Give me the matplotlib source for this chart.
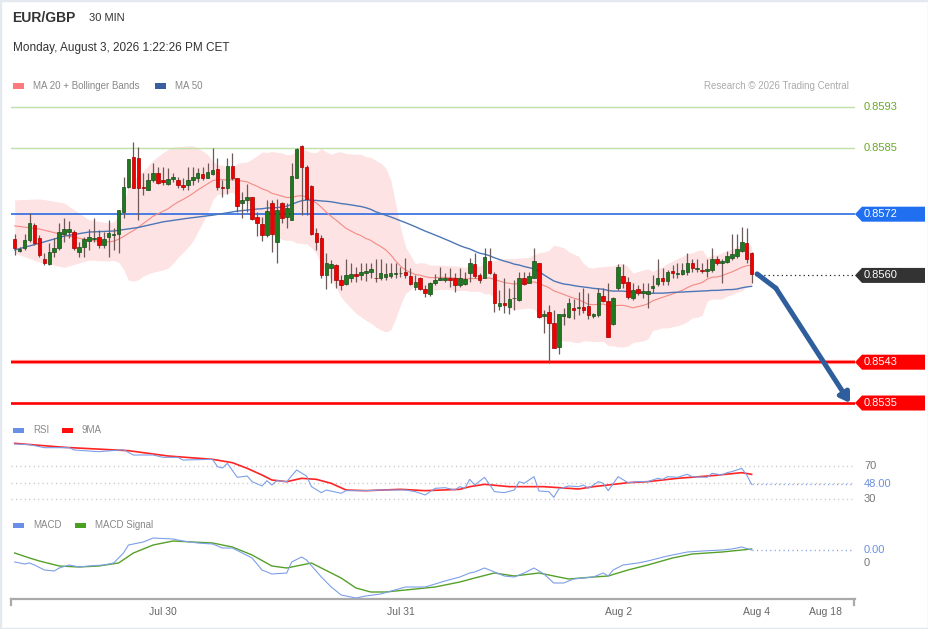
import numpy as np
import pandas as pd
import matplotlib
matplotlib.use("Agg")
import matplotlib.pyplot as plt
from matplotlib.patches import Polygon, Rectangle
from matplotlib.transforms import IdentityTransform

plt.rcParams['font.family'] = ['Liberation Sans', 'DejaVu Sans']

# ---------------- data (EUR/GBP, 30 min candles) ----------------
opens = [0.85671,0.85648,0.85653,0.85669,0.85699,0.85673,0.85632,0.85622,0.85646,0.85653,
0.85682,0.85686,0.85686,0.85645,0.85656,0.85668,0.85671,0.85675,0.85660,0.85676,
0.85680,0.85682,0.85725,0.85774,0.85833,0.85831,0.85773,0.85767,0.85787,0.85800,
0.85787,0.85779,0.85789,0.85787,0.85777,0.85777,0.85786,0.85790,0.85798,0.85791,
0.85799,0.85808,0.85773,0.85771,0.85815,0.85790,0.85742,0.85748,0.85753,0.85715,
0.85700,0.85680,0.85742,0.85666,0.85742,0.85715,0.85709,0.85791,0.85854,0.85813,
0.85776,0.85684,0.85674,0.85601,0.85614,0.85620,0.85591,0.85583,0.85594,0.85602,
0.85601,0.85604,0.85607,0.85595,0.85594,0.85597,0.85599,0.85603,0.85604,0.85607,
0.85599,0.85578,0.85594,0.85573,0.85563,0.85586,0.85592,0.85591,0.85594,0.85594,
0.85581,0.85583,0.85604,0.85622,0.85601,0.85595,0.85629,0.85603,0.85541,0.85545,
0.85539,0.85555,0.85552,0.85595,0.85586,0.85595,0.85624,0.85521,0.85529,0.85506,
0.85460,0.85520,0.85519,0.85537,0.85537,0.85539,0.85540,0.85520,0.85522,0.85560,
0.85550,0.85505,0.85575,0.85599,0.85588,0.85555,0.85573,0.85566,0.85563,0.85575,
0.85583,0.85594,0.85589,0.85609,0.85602,0.85602,0.85607,0.85624,0.85612,0.85611,
0.85609,0.85611,0.85633,0.85624,0.85627,0.85635,0.85638,0.85648,0.85663,0.85643]

highs = [0.85682,0.85656,0.85682,0.85722,0.85702,0.85679,0.85643,0.85663,0.85673,0.85703,
0.85713,0.85707,0.85689,0.85666,0.85676,0.85690,0.85712,0.85689,0.85686,0.85708,
0.85692,0.85728,0.85793,0.85828,0.85862,0.85852,0.85800,0.85800,0.85820,0.85812,
0.85813,0.85811,0.85801,0.85793,0.85790,0.85812,0.85813,0.85810,0.85813,0.85820,
0.85850,0.85831,0.85787,0.85831,0.85839,0.85791,0.85764,0.85780,0.85754,0.85724,
0.85715,0.85748,0.85748,0.85750,0.85744,0.85741,0.85820,0.85850,0.85856,0.85816,
0.85777,0.85692,0.85679,0.85643,0.85630,0.85622,0.85601,0.85633,0.85625,0.85617,
0.85624,0.85625,0.85624,0.85633,0.85633,0.85624,0.85624,0.85624,0.85617,0.85635,
0.85615,0.85601,0.85597,0.85581,0.85588,0.85602,0.85617,0.85604,0.85614,0.85604,
0.85614,0.85607,0.85635,0.85643,0.85604,0.85653,0.85653,0.85607,0.85571,0.85594,
0.85575,0.85591,0.85607,0.85607,0.85607,0.85654,0.85624,0.85532,0.85542,0.85532,
0.85524,0.85537,0.85555,0.85553,0.85568,0.85575,0.85565,0.85526,0.85575,0.85575,
0.85585,0.85558,0.85622,0.85622,0.85597,0.85586,0.85581,0.85585,0.85585,0.85601,
0.85633,0.85614,0.85611,0.85620,0.85624,0.85625,0.85643,0.85632,0.85633,0.85624,
0.85632,0.85653,0.85638,0.85633,0.85648,0.85682,0.85682,0.85694,0.85692,0.85646]

lows = [0.85641,0.85645,0.85650,0.85666,0.85660,0.85637,0.85620,0.85620,0.85637,0.85650,
0.85666,0.85673,0.85650,0.85637,0.85637,0.85650,0.85666,0.85653,0.85653,0.85637,
0.85650,0.85643,0.85713,0.85771,0.85771,0.85709,0.85758,0.85767,0.85784,0.85779,
0.85777,0.85777,0.85784,0.85771,0.85767,0.85767,0.85777,0.85784,0.85787,0.85790,
0.85797,0.85767,0.85754,0.85759,0.85787,0.85724,0.85713,0.85725,0.85709,0.85677,
0.85667,0.85676,0.85646,0.85624,0.85702,0.85693,0.85709,0.85790,0.85718,0.85718,
0.85679,0.85650,0.85594,0.85573,0.85585,0.85575,0.85571,0.85581,0.85588,0.85588,
0.85591,0.85589,0.85594,0.85588,0.85591,0.85591,0.85594,0.85594,0.85597,0.85594,
0.85581,0.85571,0.85571,0.85558,0.85560,0.85581,0.85591,0.85588,0.85578,0.85567,
0.85578,0.85581,0.85588,0.85595,0.85585,0.85594,0.85602,0.85529,0.85532,0.85526,
0.85524,0.85532,0.85550,0.85581,0.85585,0.85594,0.85516,0.85487,0.85428,0.85457,
0.85447,0.85503,0.85516,0.85514,0.85522,0.85526,0.85514,0.85516,0.85519,0.85548,
0.85480,0.85503,0.85571,0.85575,0.85553,0.85552,0.85561,0.85555,0.85537,0.85565,
0.85579,0.85581,0.85581,0.85594,0.85594,0.85601,0.85601,0.85607,0.85607,0.85604,
0.85596,0.85607,0.85620,0.85585,0.85624,0.85630,0.85635,0.85646,0.85624,0.85585]

closes = [0.85653,0.85652,0.85669,0.85702,0.85663,0.85640,0.85625,0.85645,0.85654,0.85686,
0.85690,0.85690,0.85653,0.85656,0.85671,0.85675,0.85673,0.85660,0.85671,0.85684,
0.85682,0.85728,0.85774,0.85828,0.85772,0.85772,0.85771,0.85787,0.85800,0.85782,
0.85784,0.85788,0.85793,0.85777,0.85774,0.85787,0.85793,0.85800,0.85791,0.85802,
0.85807,0.85773,0.85771,0.85815,0.85791,0.85736,0.85748,0.85754,0.85710,0.85702,
0.85680,0.85726,0.85681,0.85728,0.85713,0.85733,0.85795,0.85847,0.85813,0.85750,
0.85682,0.85665,0.85601,0.85624,0.85622,0.85592,0.85581,0.85601,0.85603,0.85599,
0.85606,0.85609,0.85612,0.85594,0.85605,0.85602,0.85604,0.85605,0.85605,0.85601,
0.85583,0.85588,0.85573,0.85566,0.85585,0.85592,0.85595,0.85594,0.85591,0.85581,
0.85594,0.85593,0.85624,0.85599,0.85592,0.85637,0.85604,0.85545,0.85545,0.85542,
0.85553,0.85556,0.85595,0.85583,0.85599,0.85628,0.85519,0.85524,0.85506,0.85458,
0.85524,0.85524,0.85545,0.85532,0.85539,0.85533,0.85522,0.85524,0.85565,0.85550,
0.85480,0.85555,0.85616,0.85585,0.85557,0.85571,0.85566,0.85569,0.85570,0.85579,
0.85594,0.85589,0.85607,0.85604,0.85605,0.85611,0.85624,0.85615,0.85615,0.85609,
0.85612,0.85633,0.85625,0.85629,0.85638,0.85642,0.85652,0.85665,0.85632,0.85603]

# indicator values before the rolling windows are full
ma20_head_idx = [0, 5, 10, 15]
ma20_head = [0.85697, 0.85691, 0.85679, 0.85669]
bb_up_head = [0.85748, 0.85750, 0.85742, 0.85709]
bb_lo_head = [0.85644, 0.85626, 0.85616, 0.85630]
ma50_head_idx = [0, 5, 10, 15, 20, 25, 30, 35, 40, 45]
ma50_head = [0.85650, 0.85663, 0.85677, 0.85685, 0.85687, 0.85694, 0.85705, 0.85712, 0.85718, 0.85726]

rsi_idx = [0,3,6,11,12,17,22,24,28,30,33,34,40,41,42,43,45,47,48,50,51,52,53,55,57,59,60,62,63,66,
           67,71,74,79,81,83,85,87,89,90,91,92,93,95,97,99,101,102,103,105,106,108,109,110,112,114,115,
           116,118,119,120,122,124,126,128,130,131,132,134,136,137,140,141,143,144,145,147,148,149]
rsi_vals = [96.4,95.6,92,92,89.2,87.2,89.5,83.2,83.2,80.4,80.4,77.2,78,69.2,67.6,73.2,56.4,58,51.2,46,
            52.4,47.2,52.4,51.2,65.2,58,45.2,38,41.2,37.2,40.4,40.4,41.2,41.2,39.2,35.2,43.2,44,41.2,45.2,
            43.2,54,47.2,56.4,39.2,38,41.2,51.2,49.2,57.2,40,39.2,32.4,42.4,46,45.2,47.2,43.2,51.2,49.2,
            40.4,57.2,50,51.2,51.2,55.2,54,57.2,56.4,60,57.2,56.4,61.2,59.2,62,63.2,67.2,59.2,48]
rsi9_idx = [0,10,23,31,40,44,47,50,52,55,58,61,64,67,71,78,83,90,92,95,100,107,114,117,120,124,128,134,141,147,149]
rsi9_vals = [97.2,92.4,88.4,82,78,74,67.2,59.2,53.2,51.2,55.2,54,49.2,41.2,40.4,42,40.4,42,45.2,48,
             45.2,45.2,42.4,45.2,47.2,50,51.2,55.2,58.4,62,60]

macd_idx = [0,2,3,4,6,8,9,11,13,15,18,20,22,23,26,28,32,34,37,40,42,44,46,48,50,52,55,56,58,59,62,64,66,
            69,71,74,79,83,87,90,92,93,95,97,99,101,103,105,107,109,111,113,115,117,119,120,121,123,126,
            128,132,136,139,143,145,147,149]
macd_vals = [0.00001,-0.00001,0.0,-0.00002,-0.00007,-0.00008,-0.00005,-0.00002,-0.00004,-0.00003,
             -0.00002,0.0,0.00010,0.00018,0.00021,0.00025,0.00024,0.00022,0.00020,0.00019,
             0.00015,0.00015,0.00010,0.00005,-0.00007,-0.00011,-0.00010,0.00001,0.00006,0.00003,
             -0.00014,-0.00024,-0.00032,-0.00035,-0.00033,-0.00031,-0.00024,-0.00024,-0.00018,-0.00014,
             -0.00010,-0.00009,-0.00005,-0.00009,-0.00013,-0.00014,-0.00010,-0.00005,-0.00011,-0.00020,
             -0.00020,-0.00016,-0.00015,-0.00014,-0.00010,-0.00013,-0.00007,-0.00002,0.0,0.00002,
             0.00007,0.00011,0.00012,0.00013,0.00014,0.00016,0.00013]
sig_idx = [0,3,5,9,13,17,21,24,28,32,36,40,44,48,52,55,58,60,62,66,69,72,75,79,85,90,93,97,101,106,
           108,112,117,120,124,128,133,137,143,149]
sig_vals = [0.00010,0.00005,0.00002,-0.00003,-0.00004,-0.00003,0.0,0.00010,0.00018,0.00022,
            0.00021,0.00020,0.00016,0.00008,-0.00003,-0.00005,-0.00002,0.0,-0.00005,-0.00015,
            -0.00025,-0.00029,-0.00029,-0.00027,-0.00024,-0.00019,-0.00015,-0.00010,-0.00013,-0.00010,
            -0.00012,-0.00016,-0.00014,-0.00013,-0.00007,-0.00002,0.00005,0.00009,0.00011,0.00014]

level_prices = [0.8593, 0.8585, 0.8572, 0.8560, 0.8543, 0.8535]
level_texts = ['0.8593', '0.8585', '0.8572', '0.8560', '0.8543', '0.8535']
target_price = 0.8535

tick_idx = [30, 78, 122, 150, 164]
tick_labels = ['Jul 30', 'Jul 31', 'Aug 2', 'Aug 4', 'Aug 18']

# ---------------- figure ----------------
W, H = 929, 629
fig = plt.figure(figsize=(W / 100, H / 100), dpi=100)
fig.patch.set_facecolor('white')

PX_L, PX_R = 11, 855
XLIM = (-0.75, 169.9)


def add_ax(top, bottom):
    a = fig.add_axes([PX_L / W, 1 - bottom / H, (PX_R - PX_L) / W, (bottom - top) / H])
    a.set_facecolor('none')
    for s in a.spines.values():
        s.set_visible(False)
    a.set_xticks([])
    a.set_yticks([])
    a.set_xlim(XLIM)
    return a


ax = add_ax(97, 412)
ax.set_ylim(0.853324, 0.859496)
ax_rsi = add_ax(435, 505)
ax_rsi.set_ylim(23.2, 107.2)
ax_macd = add_ax(530, 599)
ax_macd.set_ylim(-0.00036, 0.00033)

o = np.array(opens); h = np.array(highs); l = np.array(lows); c = np.array(closes)
n = len(c)
idx = np.arange(n)

# Bollinger / MAs
cs = pd.Series(c)
ma20 = cs.rolling(20).mean().to_numpy()
sd20 = cs.rolling(20).std(ddof=0).to_numpy()
ma50 = cs.rolling(50).mean().to_numpy()
x20 = np.r_[ma20_head_idx, idx[19:]]
m20 = np.r_[ma20_head, ma20[19:]]
bu = np.r_[bb_up_head, (ma20 + 2 * sd20)[19:]]
bl = np.r_[bb_lo_head, (ma20 - 2 * sd20)[19:]]
x50 = np.r_[ma50_head_idx, idx[49:]]
m50 = np.r_[ma50_head, ma50[49:]]

ax.fill_between(x20, bl, bu, color='#fde3e3', lw=0, zorder=1)
ax.plot(x20, m20, color='#f58a84', lw=0.8, zorder=2.5)
ax.plot(x50, m50, color='#4d76b6', lw=1.0, zorder=2.5)

# levels
ax.axhline(level_prices[0], color='#bfe0a8', lw=1.0, zorder=2)
ax.axhline(level_prices[1], color='#bfe0a8', lw=1.0, zorder=2)
ax.axhline(level_prices[2], color='#2c6be0', lw=1.2, zorder=2)
ax.plot([n - 0.3, XLIM[1]], [level_prices[3]] * 2, color='#222222', lw=0.9, ls=(0, (1, 2.5)), zorder=2)
ax.axhline(level_prices[4], color='#ff9a9a', lw=3.0, zorder=2)
ax.axhline(level_prices[4], color='#ff0000', lw=1.6, zorder=2)
ax.axhline(level_prices[5], color='#ff0000', lw=1.9, zorder=2)

# candles
upc = c >= o
ax.vlines(idx, l, h, color='#6e5858', lw=0.9, zorder=3)
bb = np.minimum(o, c)
bh = np.maximum(np.abs(c - o), 0.000012)
ax.bar(idx[upc], bh[upc], bottom=bb[upc], width=0.72, color='#1f7a1f', edgecolor='#1a4a1a', lw=0.5, zorder=4)
ax.bar(idx[~upc], bh[~upc], bottom=bb[~upc], width=0.72, color='#f20000', edgecolor='#a00000', lw=0.5, zorder=4)

# forecast arrow
last = n - 1
ax_x = [last + 1.1, last + 4.9]
ax_y = [c[-1], c[-1] - 0.00028]
ax.plot(ax_x, ax_y, color='#2e5e9c', lw=3.6, solid_capstyle='round', zorder=6, clip_on=False)
ax.annotate('', xy=(last + 19.9, target_price), xytext=(ax_x[1], ax_y[1]),
            arrowprops=dict(arrowstyle='-|>,head_length=0.55,head_width=0.35', color='#2e5e9c',
                            lw=3.6, shrinkA=0, shrinkB=0), zorder=6, annotation_clip=False)

# right side tags for levels
green_txt = '#6aa829'
def tag(price, text, fc):
    yd = ax.transData.transform((0, price))[1]
    pts = [(855, yd), (862, yd + 7.5), (925, yd + 7.5), (925, yd - 7.5), (862, yd - 7.5)]
    fig.add_artist(Polygon(pts, closed=True, transform=IdentityTransform(), fc=fc, ec='none'))
    fig.text(864 / W, yd / H, text, color='white', va='center', ha='left', fontsize=8)

for p, t in zip(level_prices[:2], level_texts[:2]):
    yd = ax.transData.transform((0, p))[1]
    fig.text(864 / W, yd / H, t, color=green_txt, va='center', ha='left', fontsize=8)
tag(level_prices[2], level_texts[2], '#1f6ff0')
tag(level_prices[3], level_texts[3], '#333333')
tag(level_prices[4], level_texts[4], '#ff0000')
tag(level_prices[5], level_texts[5], '#ff0000')

# RSI panel
dot = (0, (0.8, 2.4))
for lv in (70, 50, 30):
    ax_rsi.plot([XLIM[0], 169.3], [lv, lv], color='#c4c4c4', lw=1.0, ls=dot)
ax_rsi.plot(rsi9_idx, rsi9_vals, color='#ff2424', lw=1.2, zorder=3)
ax_rsi.plot(rsi_idx, rsi_vals, color='#7d9fe8', lw=0.8, zorder=4)
ax_rsi.plot([rsi_idx[-1], 169.3], [rsi_vals[-1]] * 2, color='#7d9fe8', lw=1.0, ls=dot)
for lv in (70, 30):
    yd = ax_rsi.transData.transform((0, lv))[1]
    fig.text(864 / W, yd / H, str(lv), color='#777777', va='center', ha='left', fontsize=8)
yd = ax_rsi.transData.transform((0, rsi_vals[-1]))[1]
fig.text(864 / W, yd / H, f'{rsi_vals[-1]:.2f}', color='#6c8fe0', va='center', ha='left', fontsize=8)

# MACD panel
ax_macd.plot(sig_idx, sig_vals, color='#55a02a', lw=1.0, zorder=3)
ax_macd.plot(macd_idx, macd_vals, color='#7d9fe8', lw=0.8, zorder=4)
ax_macd.plot([macd_idx[-1], 169.3], [macd_vals[-1]] * 2, color='#7d9fe8', lw=1.0, ls=dot)
yd = ax_macd.transData.transform((0, macd_vals[-1]))[1]
fig.text(864 / W, yd / H, f'{macd_vals[-1]:.2f}', color='#6c8fe0', va='center', ha='left', fontsize=8)
yd = ax_macd.transData.transform((0, 0))[1]
fig.text(864 / W, yd / H, '0', color='#777777', va='center', ha='left', fontsize=8)

ax_macd.spines['bottom'].set_visible(True)
ax_macd.spines['bottom'].set_color('#aaaaaa')
ax_macd.spines['bottom'].set_linewidth(1.6)
ax_macd.set_xticks(tick_idx)
ax_macd.set_xticklabels(tick_labels, color='#666666', fontsize=7.5)
ax_macd.tick_params(axis='x', length=0, pad=6)
for xp in (PX_L + 0.5, PX_R - 0.5):
    fig.add_artist(plt.Line2D([xp / W, xp / W], [1 - 599 / H, 1 - 605 / H], color='#aaaaaa', lw=1.6))

# header texts
fig.text(12 / W, 1 - 18 / H, 'EUR/GBP', fontsize=10, fontweight='bold', color='#333333', va='center')
fig.text(89 / W, 1 - 18 / H, '30 MIN', fontsize=8, color='#333333', va='center')
fig.text(13 / W, 1 - 48 / H, 'Monday, August 3, 2026 1:22:26 PM CET', fontsize=8.5, color='#333333', va='center')
fig.text(849 / W, 1 - 86 / H, 'Research \u00a9 2026 Trading Central', fontsize=7, color='#aaaaaa',
         va='center', ha='right')


def legend_item(x, y, color, text):
    fig.add_artist(Rectangle(((x) / W, 1 - (y + 2.5) / H), 11 / W, 5 / H, transform=fig.transFigure,
                             fc=color, ec='none'))
    fig.text((x + 20) / W, 1 - y / H, text, fontsize=7, color='#888888', va='center')


legend_item(13, 86, '#ff7b7b', 'MA 20 + Bollinger Bands')
legend_item(155, 86, '#3a5fa0', 'MA 50')
legend_item(13, 430, '#6a8fe8', 'RSI')
legend_item(62, 430, '#ff1010', '9MA')
legend_item(13, 525, '#6a8fe8', 'MACD')
legend_item(75, 525, '#4aa020', 'MACD Signal')

# thin frame around the picture
fig.add_artist(Rectangle((0, 0), 1, 1, transform=fig.transFigure, fill=False, ec='#e3e9ee', lw=2.5))

fig.savefig('out.png', dpi=100)
